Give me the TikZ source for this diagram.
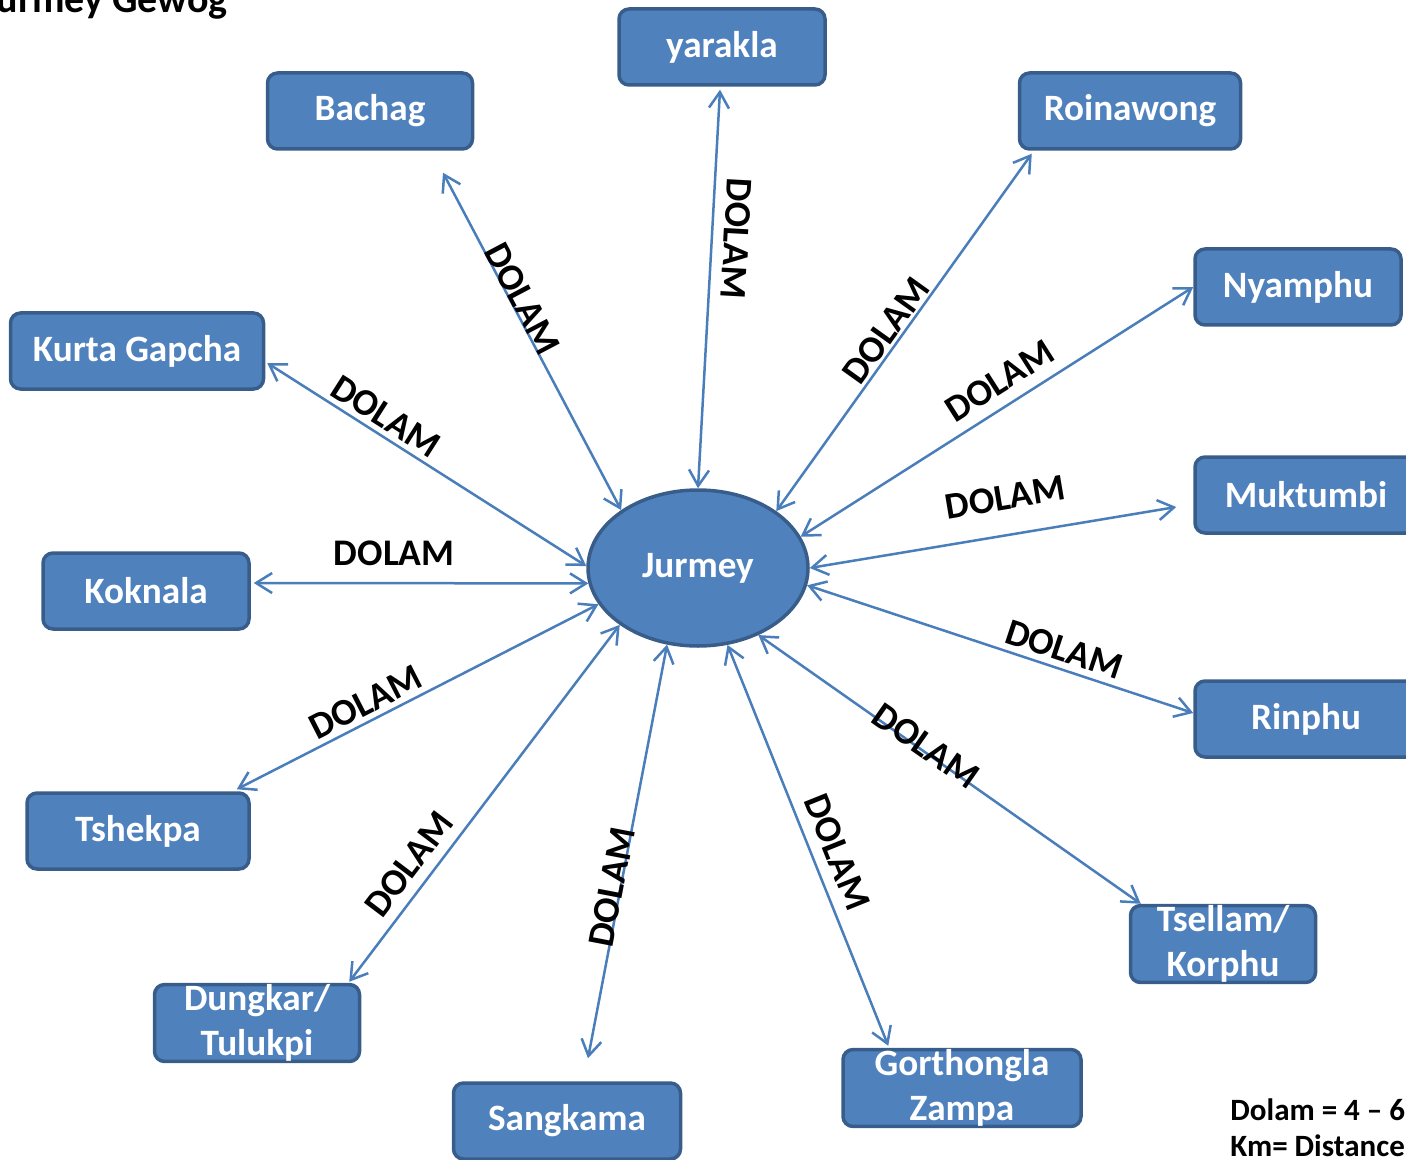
\documentclass[tikz,border=0pt]{standalone}
\usepackage{fontspec}
\setmainfont{Carlito}
\usetikzlibrary{shapes.geometric,arrows.meta}
\definecolor{boxfill}{HTML}{4F81BD}
\definecolor{boxline}{HTML}{385D8A}
\definecolor{linkblue}{HTML}{4A7EBB}
\tikzset{
place/.style={draw=boxline, fill=boxfill, line width=1.75pt, rounded corners=5pt,
  text=white, font=\bfseries\fontsize{18.6}{22.5}\selectfont,
  minimum height=38pt, inner sep=0pt, align=center}, % the village boxes
hub/.style={ellipse, draw=boxline, fill=boxfill, line width=1.75pt, text=white,
  font=\bfseries\fontsize{18.6}{22}\selectfont,
  minimum width=110pt, minimum height=78pt, inner sep=0pt},
link/.style={color=linkblue, line width=1.25pt,
  {Straight Barb[length=8pt,width=10pt]}-{Straight Barb[length=8pt,width=10pt]}},
dolam/.style={sloped, text=black, font=\bfseries\fontsize{18.8}{22}\selectfont, inner sep=0pt},
}
\begin{document}
\begin{tikzpicture}[x=0.5pt,y=-0.5pt]
\useasboundingbox (0,0) rectangle (1406,1160);
\clip (0,0) rectangle (1406,1160);
\node[anchor=base east, font=\bfseries\fontsize{20}{24}\selectfont] (title) at (235,13) {Jurmey Gewog};
\node[hub] (jurmey) at (698,568) {Jurmey};
\node[place, minimum width=103pt] (yarakla) at (722,47) {yarakla};
\node[place, minimum width=102.5pt] (bachag) at (370,111) {Bachag};
\node[place, minimum width=110.5pt] (roinawong) at (1130,111) {Roinawong};
\node[place, minimum width=103pt] (nyamphu) at (1298,287) {Nyamphu};
\node[place, minimum width=126.5pt] (kurta) at (137,351) {Kurta Gapcha};
\node[place, minimum width=111pt] (muktumbi) at (1306,495) {Muktumbi};
\node[place, minimum width=103pt] (koknala) at (146,591) {Koknala};
\node[place, minimum width=111pt] (rinphu) at (1306,719) {Rinphu};
\node[place, minimum width=111pt] (tshekpa) at (138,831) {Tshekpa};
\node[place, minimum width=92.5pt] (tsellam) at (1223,944) {Tsellam/\\Korphu};
\node[place, minimum width=102.5pt] (dungkar) at (257,1023) {Dungkar/\\Tulukpi};
\node[place, minimum width=113.5pt] (sangkama) at (567,1121) {Sangkama};
\node[place, minimum width=119pt] (gorthongla) at (962,1088) {Gorthongla\\Zampa};
\node[anchor=north west, align=left, inner sep=0pt,
  font=\bfseries\fontsize{15.5}{18}\selectfont] (key) at (1230,1098) {Dolam = 4 – 6\\Km= Distance};
\path[link]
([shift={(-2,3)}]yarakla.south) edge node[dolam, pos=0.37, above=5.5pt, allow upside down] {DOLAM} (jurmey.90)
([shift={(73,22)}]bachag.south) edge node[dolam, pos=0.39, above=-1pt] {DOLAM} (jurmey.143)
(jurmey.36) edge node[dolam, pos=0.48, above=1pt] {DOLAM} ([shift={(14,3)}]roinawong.south west)
(jurmey.17) edge node[dolam, pos=0.54, above=5.5pt] {DOLAM} (nyamphu.west)
(jurmey.0) edge node[dolam, pos=0.55, above=12pt] {DOLAM} ([shift={(-17,12)}]muktumbi.west)
(jurmey.-9) edge node[dolam, pos=0.65, above=3pt] {DOLAM} ([shift={(0,-6)}]rinphu.west)
(jurmey.-48) edge node[dolam, pos=0.43, above=-4pt] {DOLAM} ([shift={(12,0)}]tsellam.north west)
(jurmey.-69) edge node[dolam, pos=0.54, above=5.5pt] {DOLAM} ([shift={(47,-2)}]gorthongla.north west)
(jurmey.-112) edge node[dolam, pos=0.59, above=-2.5pt] {DOLAM} ([shift={(21,-23)}]sangkama.north)
(jurmey.-144) edge node[dolam, pos=0.71, above=5pt] {DOLAM} ([shift={(-12,-1)}]dungkar.north east)
(jurmey.-160) edge node[dolam, pos=0.62, above=2.5pt] {DOLAM} ([shift={(-14,-2)}]tshekpa.north east)
([shift={(3,-8)}]koknala.east) edge node[dolam, pos=0.42, above=8pt] {DOLAM} (jurmey.-172)
([shift={(2,12)}]kurta.east) edge node[dolam, pos=0.34, above=2.5pt] {DOLAM} (jurmey.179);
\end{tikzpicture}
\end{document}
